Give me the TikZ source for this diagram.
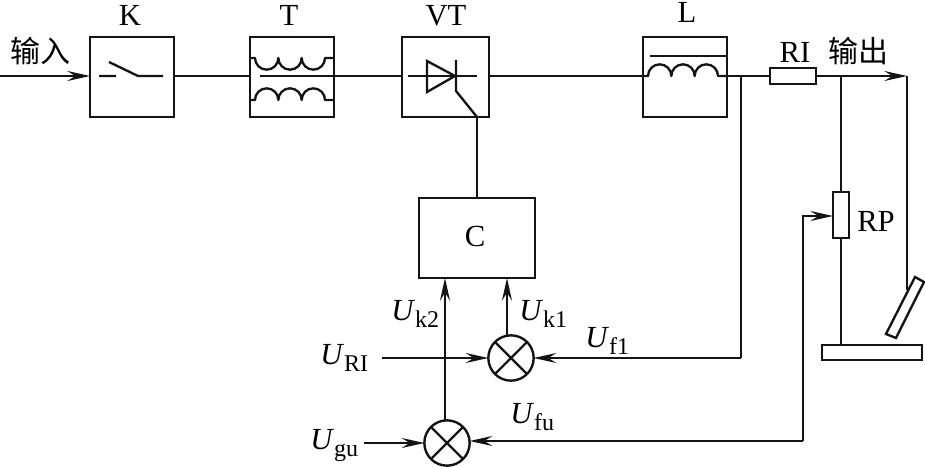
\documentclass[tikz,border=0pt]{standalone}
\usepackage{fontspec}
\setmainfont{Liberation Serif}
\newfontfamily\cjkfont{Noto Sans CJK SC}
\usetikzlibrary{arrows.meta}
\newcommand{\ulab}[2]{\fontsize{23}{26}\selectfont\textit{U}\raisebox{-5.5pt}{\fontsize{18}{20}\selectfont #2}}
\tikzset{
  x=0.75pt,y=-0.75pt,
  ln/.style={line width=1.75pt,black!92},
  arr/.style={ln,-{Stealth[length=17pt,width=7.5pt,inset=6pt]}},
  blockbox/.style={draw=black!92,line width=1.8pt,inner sep=0,outer sep=0,minimum width=63pt,minimum height=60pt},
  small box/.style={draw=black!92,line width=1.7pt,inner sep=0,outer sep=0},
  summer/.style={circle,draw=black!92,line width=1.8pt,inner sep=0,outer sep=0,minimum size=34pt},
  lab/.style={inner sep=0,font=\fontsize{23}{26}\selectfont},
  cjk/.style={inner sep=0,font=\cjkfont\fontsize{22.5}{26}\selectfont},
  ulabel/.style={inner sep=0,anchor=base west},
}
\begin{document}
\begin{tikzpicture}
\useasboundingbox (0,0) rectangle (925,467);
% blocks
\node[blockbox] (K) at (132,77) {};
\node[blockbox] (T) at (292,77) {};
\node[blockbox,minimum width=65pt] (VT) at (445.5,77) {};
\node[blockbox] (L) at (685,77) {};
\node[small box,minimum width=34.5pt,minimum height=11.5pt] (RI) at (793,76) {};
\node[small box,minimum width=12pt,minimum height=34.5pt] (RP) at (841,215) {};
\node[small box,minimum width=75pt,minimum height=11pt] (plate) at (872,352.5) {};
\node[small box,minimum width=87pt,minimum height=60pt] (C) at (477,238) {};
\node[summer] (S1) at (511,358) {};
\node[summer] (S2) at (447,443) {};
\draw[ln] (S1.45) -- (S1.225) (S1.135) -- (S1.315);
\draw[ln] (S2.45) -- (S2.225) (S2.135) -- (S2.315);
% coordinates
\coordinate (in) at (0,76);
\coordinate (tap) at (741,76);
\coordinate (tapb) at (741,358);
\coordinate (rpt) at (841,76);
\coordinate (out) at (907,76);
\coordinate (outb) at (907,290);
\coordinate (fbk) at (803,216);
\coordinate (fbkb) at (803,441);
\coordinate (uri) at (382,358);
\coordinate (ugu) at (364,443);
% connectors
\draw[arr] (in) -- (K.west |- in);
\draw[ln] (K.east |- in) -- (T.west |- in);
\draw[ln] (260,76) -- (VT.west |- in);
\draw[ln] (VT.east |- in) -- (L.west |- in);
\draw[ln] (L.east |- in) -- (RI.west);
\draw[arr] (RI.east) -- (out);
\draw[ln] (out) -- (outb);
\draw[ln] (tap) -- (tapb);
\draw[arr] (tapb) -- (S1.east);
\draw[ln] (rpt) -- (RP.north);
\draw[ln] (RP.south) -- (plate.north -| RP.south);
\draw[arr] (fbkb) -- (fbk) -- (RP.west |- fbk);
\draw[arr] (fbkb) -- (S2.east |- fbkb);
\draw[arr] (uri) -- (S1.west);
\draw[arr] (ugu) -- (S2.west);
\draw[arr] (507,335) -- (507,278);
\draw[arr] (445,420) -- (445,278);
\draw[ln] (477,117) -- (C.north);
% switch
\draw[ln] (99,76) -- (116,76) (109,62) -- (138,76) -- (163,76);
% transformer
\draw[ln,line join=round] (250,58) -- (255,58) arc[start angle=180,end angle=0,radius=11.67] arc[start angle=180,end angle=0,radius=11.67] arc[start angle=180,end angle=0,radius=11.67] -- (334,58);
\draw[ln,line join=round] (250,100) -- (255,100) arc[start angle=180,end angle=360,radius=11.67] arc[start angle=180,end angle=360,radius=11.67] arc[start angle=180,end angle=360,radius=11.67] -- (334,100);
% inductor
\draw[ln,line join=round] (643,76) -- (648,76) arc[start angle=180,end angle=360,radius=11.67] arc[start angle=180,end angle=360,radius=11.67] arc[start angle=180,end angle=360,radius=11.67] -- (727,76);
\draw[ln] (650,56) -- (727,56);
% thyristor
\draw[ln] (408,76) -- (477,76);
\draw[ln,line join=miter] (427,61) -- (455,76) -- (427,92) -- cycle;
\draw[ln] (456,60) -- (456,91) -- (477,117);
% tilted contact
\draw[ln] (915,277) -- (924,282) -- (896,338) -- (886,334) -- cycle;
% text
\node[lab] (tK) at (130,15) {K};
\node[lab] (tT) at (289,15) {T};
\node[lab] (tVT) at (446,16) {VT};
\node[lab] (tL) at (687,12) {L};
\node[lab] (tRI) at (795,52) {RI};
\node[lab] (tRP) at (876,221) {RP};
\node[lab] (tC) at (475,236) {C};
\node[cjk] (tin) at (41,51) {输入};
\node[cjk] (tout) at (858,51) {输出};
\node[ulabel] (uk2) at (391,320) {\ulab{U}{k2}};
\node[ulabel] (uk1) at (519,320) {\ulab{U}{k1}};
\node[ulabel] (uf1) at (585,347) {\ulab{U}{f1}};
\node[ulabel] (uRI) at (320,364) {\ulab{U}{RI}};
\node[ulabel] (ufu) at (510,423) {\ulab{U}{fu}};
\node[ulabel] (ugul) at (310,449) {\ulab{U}{gu}};
\end{tikzpicture}
\end{document}
